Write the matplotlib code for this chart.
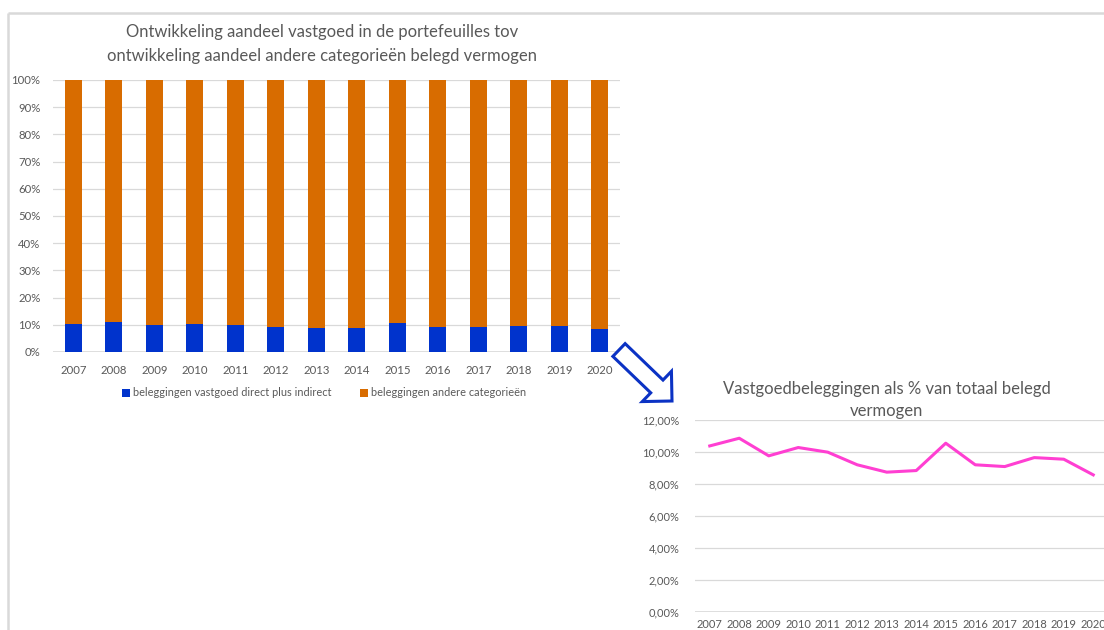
"""Property share of invested assets, 2007-2020: stacked bars plus a line view."""

import numpy as np
import matplotlib
matplotlib.use("Agg")
import matplotlib.pyplot as plt
from matplotlib.patches import FancyArrow
from matplotlib.ticker import FuncFormatter, MultipleLocator

plt.rcParams["font.family"] = ["Lato", "DejaVu Sans"]

YEARS = [str(y) for y in range(2007, 2021)]
# property (direct + indirect) as % of total invested assets
VASTGOED_PCT = [10.38, 10.86, 9.76, 10.28, 9.99, 9.20, 8.74,
                8.84, 10.55, 9.20, 9.09, 9.65, 9.55, 8.57]
ANDERE_PCT = [100 - v for v in VASTGOED_PCT]

LEFT_TITLE = ("Ontwikkeling aandeel vastgoed in de portefeuilles tov\n"
              "ontwikkeling aandeel andere categorieën belegd vermogen")
RIGHT_TITLE = "Vastgoedbeleggingen als % van totaal belegd\nvermogen"
LEGEND_LABELS = ["beleggingen vastgoed direct plus indirect",
                 "beleggingen andere categorieën"]

BLUE = "#0033CC"
ORANGE = "#D86C00"
MAGENTA = "#FF3FD2"
TEXT = "#595959"
GRID = "#D9D9D9"

W, H = 1104, 630
fig = plt.figure(figsize=(W / 100, H / 100), dpi=100)


def px_axes(x0, y_top, x1, y_bot):
    """Axes box from pixel edges (y measured from the top)."""
    return fig.add_axes([x0 / W, 1 - y_bot / H, (x1 - x0) / W, (y_bot - y_top) / H])


def style(ax, size):
    for s in ax.spines.values():
        s.set_visible(False)
    ax.grid(axis="y", color=GRID, linewidth=0.9)
    ax.set_axisbelow(True)
    ax.tick_params(length=0, colors=TEXT, labelsize=size)
    ax.axhline(0, color=GRID, linewidth=1.2, zorder=0.5)


# --- left: stacked 100% bars ---
ax1 = px_axes(53, 80, 620, 352)
x = np.arange(len(YEARS))
ax1.bar(x, VASTGOED_PCT, width=0.41, color=BLUE, label=LEGEND_LABELS[0])
ax1.bar(x, ANDERE_PCT, width=0.41, bottom=VASTGOED_PCT, color=ORANGE,
        label=LEGEND_LABELS[1])
ax1.set_xlim(-0.5, len(YEARS) - 0.5)
ax1.set_ylim(0, 100)
ax1.yaxis.set_major_locator(MultipleLocator(10))
ax1.yaxis.set_major_formatter(FuncFormatter(lambda v, _: f"{v:.0f}%"))
ax1.set_xticks(x, YEARS)
style(ax1, 8.2)
ax1.tick_params(axis="x", pad=9)
ax1.tick_params(axis="y", pad=9)

fig.text(322 / W, 1 - 44 / H, LEFT_TITLE, ha="center", va="center",
         fontsize=12.0, color=TEXT, linespacing=1.55)

h, l = ax1.get_legend_handles_labels()
fig.legend(h, l, loc="center", bbox_to_anchor=(324 / W, 1 - 393 / H), ncol=2,
           frameon=False, fontsize=7.9, labelcolor=TEXT, handlelength=0.7,
           handleheight=0.7, handletextpad=0.3, columnspacing=2.6)

# --- right: line of the same share ---
ax2 = px_axes(695, 420, 1108, 612)
ax2.plot(x, VASTGOED_PCT, color=MAGENTA, linewidth=2.2, solid_joinstyle="round")
ax2.set_xlim(-0.5, len(YEARS) - 0.5)
ax2.set_ylim(0, 12)
ax2.yaxis.set_major_locator(MultipleLocator(2))
ax2.yaxis.set_major_formatter(
    FuncFormatter(lambda v, _: f"{v:.2f}%".replace(".", ",")))
ax2.set_xticks(x, YEARS)
style(ax2, 8.0)
ax2.tick_params(axis="x", pad=5)
ax2.tick_params(axis="y", pad=11)

fig.text(887 / W, 1 - 400 / H, RIGHT_TITLE, ha="center", va="center",
         fontsize=12.0, color=TEXT, linespacing=1.5)

# --- overlay in pixel units: sheet border and the hollow arrow ---
ov = fig.add_axes([0, 0, 1, 1], zorder=5)
ov.set_xlim(0, W)
ov.set_ylim(H, 0)
ov.axis("off")
ov.patch.set_alpha(0)
ov.plot([8, W], [13, 13], color=GRID, linewidth=1.8, solid_capstyle="butt")
ov.plot([8, 8], [13, H], color=GRID, linewidth=1.8, solid_capstyle="butt")
ov.add_patch(FancyArrow(619, 350, 53, 51, width=17.7, head_width=42,
                        head_length=21, length_includes_head=True,
                        facecolor="white", edgecolor="#0B32C4", linewidth=2.2))

fig.savefig("out.png", dpi=100)
